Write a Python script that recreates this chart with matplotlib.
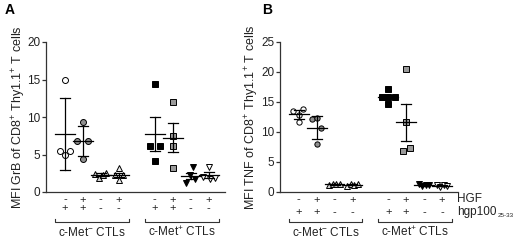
import matplotlib

matplotlib.use("Agg")
import matplotlib.pyplot as plt

plt.rcParams["font.family"] = ["Liberation Sans", "DejaVu Sans"]
plt.rcParams["mathtext.fontset"] = "custom"
plt.rcParams["mathtext.rm"] = "Liberation Sans"
plt.rcParams["mathtext.it"] = "Liberation Sans"
plt.rcParams["mathtext.default"] = "regular"

# x positions of the eight groups (two blocks of four)
POSITIONS = [0, 1, 2, 3, 5, 6, 7, 8]
HGF_ROW = ["-", "+", "-", "+", "-", "+", "-", "+"]
HGP_ROW = ["+", "+", "-", "-", "+", "+", "-", "-"]
GROUP_LABELS = ["c-Met$^{-}$ CTLs", "c-Met$^{+}$ CTLs"]

# Panel A: MFI GrB
grb_points = [
    [15.0, 5.5, 5.0, 5.5],
    [9.3, 6.85, 6.85, 4.4],
    [2.4, 1.9, 2.3, 2.5],
    [3.2, 2.3, 2.3, 1.6],
    [14.4, 6.1, 6.1, 4.2],
    [12.0, 7.5, 6.2, 3.2],
    [3.4, 2.3, 1.8, 1.2],
    [3.4, 2.0, 1.8, 1.9],
]
grb_mean = [7.73, 6.85, 2.27, 2.3, 7.73, 7.24, 2.13, 2.27]
grb_err = [4.85, 2.0, 0.2, 0.3, 2.25, 1.95, 0.4, 0.35]

# Panel B: MFI TNF
tnf_points = [
    [13.5, 13.9, 12.8, 11.6],
    [12.1, 12.4, 10.6, 8.0],
    [1.2, 1.4, 1.3, 1.4],
    [1.0, 1.3, 1.2, 1.4],
    [17.1, 15.9, 15.9, 15.9, 14.7],
    [20.5, 11.6, 6.8, 7.4],
    [1.3, 1.0, 1.2, 1.1],
    [1.1, 0.9, 1.2, 1.0],
]
tnf_mean = [12.95, 10.72, 1.3, 1.2, 15.9, 11.6, 1.15, 1.05]
tnf_err = [0.8, 1.9, 0.1, 0.1, 0.3, 3.15, 0.1, 0.1]

# styling / layout (not data)
MARKERS = ["o", "o", "^", "^", "s", "s", "v", "v"]
FILLS = ["white", "#8f8f8f", "#d4d4d4", "#ececec", "black", "#9a9a9a", "black", "white"]
JITTER_A = [
    [0, -0.27, 0, 0.27],
    [0, -0.3, 0.3, 0],
    [-0.3, -0.1, 0.1, 0.3],
    [0, -0.22, 0.22, 0],
    [0, -0.28, 0.28, 0],
    [0, 0, 0, 0],
    [0.1, -0.05, 0.25, -0.25],
    [0, -0.3, 0.05, 0.35],
]
JITTER_B = [
    [-0.3, 0.25, 0, 0],
    [-0.25, 0, 0.25, 0],
    [-0.3, -0.1, 0.1, 0.3],
    [-0.3, -0.1, 0.1, 0.3],
    [0, -0.36, 0, 0.36, 0],
    [0, 0, -0.2, 0.2],
    [-0.3, -0.1, 0.1, 0.3],
    [-0.3, -0.1, 0.1, 0.3],
]
TXT = "#222222"


def draw_panel(ax, points, means, errs, jitter, ymax, step, ylabel, msize):
    for i, x in enumerate(POSITIONS):
        xs = [x + j for j in jitter[i]]
        ax.plot(xs, points[i], MARKERS[i], ms=msize, mfc=FILLS[i], mec="black",
                mew=0.7, zorder=3, clip_on=False)
        ax.plot([x - 0.55, x + 0.55], [means[i]] * 2, color="black", lw=0.9, zorder=4)
        ax.plot([x, x], [means[i] - errs[i], means[i] + errs[i]], color="black",
                lw=0.9, zorder=4)
        for y in (means[i] - errs[i], means[i] + errs[i]):
            ax.plot([x - 0.28, x + 0.28], [y, y], color="black", lw=0.9, zorder=4)
    ax.set_xlim(-1.05, 8.9)
    ax.set_ylim(0, ymax)
    ax.set_yticks(range(0, ymax + 1, step))
    ax.set_xticks([])
    for s in ("top", "right"):
        ax.spines[s].set_visible(False)
    for s in ("left", "bottom"):
        ax.spines[s].set_linewidth(0.9)
        ax.spines[s].set_color("#333333")
    ax.tick_params(axis="y", length=3, width=0.9, labelsize=8.5, pad=1,
                   colors="#333333", labelcolor=TXT)
    ax.set_ylabel(ylabel, fontsize=9, color=TXT)


fig = plt.figure(figsize=(5.14, 2.41), dpi=100)
ax_a = fig.add_axes([46 / 514, 49 / 241, 179 / 514, 150 / 241])
ax_b = fig.add_axes([280 / 514, 49 / 241, 178 / 514, 150 / 241])

draw_panel(ax_a, grb_points, grb_mean, grb_err, JITTER_A, 20, 5,
           "MFI GrB of CD8$^{+}$ Thy1.1$^{+}$ T cells", 4.3)
draw_panel(ax_b, tnf_points, tnf_mean, tnf_err, JITTER_B, 25, 5,
           "MFI TNF of CD8$^{+}$ Thy1.1$^{+}$ T cells", 3.8)
ax_a.yaxis.set_label_coords(-0.10, 0.5)
ax_b.yaxis.set_label_coords(-0.105, 0.5)

# row labels under the axes
for ax, y1, y2 in ((ax_a, -0.05, -0.11), (ax_b, -0.05, -0.135)):
    tr = ax.get_xaxis_transform()
    for x, h, g in zip(POSITIONS, HGF_ROW, HGP_ROW):
        ax.text(x, y1, h, transform=tr, ha="center", va="center", fontsize=8,
                color=TXT)
        ax.text(x, y2, g, transform=tr, ha="center", va="center", fontsize=8,
                color=TXT)
    for (lo, hi), label in zip(((-0.56, 3.56), (4.44, 8.56)), GROUP_LABELS):
        ax.plot([lo, lo, hi, hi], [-0.18, -0.2, -0.2, -0.18], transform=tr,
                color="#333333", lw=0.8, clip_on=False)
        ax.text((lo + hi) / 2, -0.27, label, transform=tr, ha="center",
                va="center", fontsize=8.5, color=TXT)

tr_b = ax_b.get_xaxis_transform()
ax_b.text(8.85, -0.05, "HGF", transform=tr_b, ha="left", va="center",
          fontsize=8.5, color=TXT)
ax_b.text(8.85, -0.135, "hgp100", transform=tr_b, ha="left", va="center",
          fontsize=8.5, color=TXT)
ax_b.text(11.1, -0.155, "25-33", transform=tr_b, ha="left", va="center",
          fontsize=4.5, color=TXT)

fig.text(5 / 514, 1 - 10 / 241, "A", fontsize=10, fontweight="bold",
         ha="left", va="center")
fig.text(262 / 514, 1 - 10 / 241, "B", fontsize=10, fontweight="bold",
         ha="left", va="center")

fig.savefig("out.png", dpi=100)
